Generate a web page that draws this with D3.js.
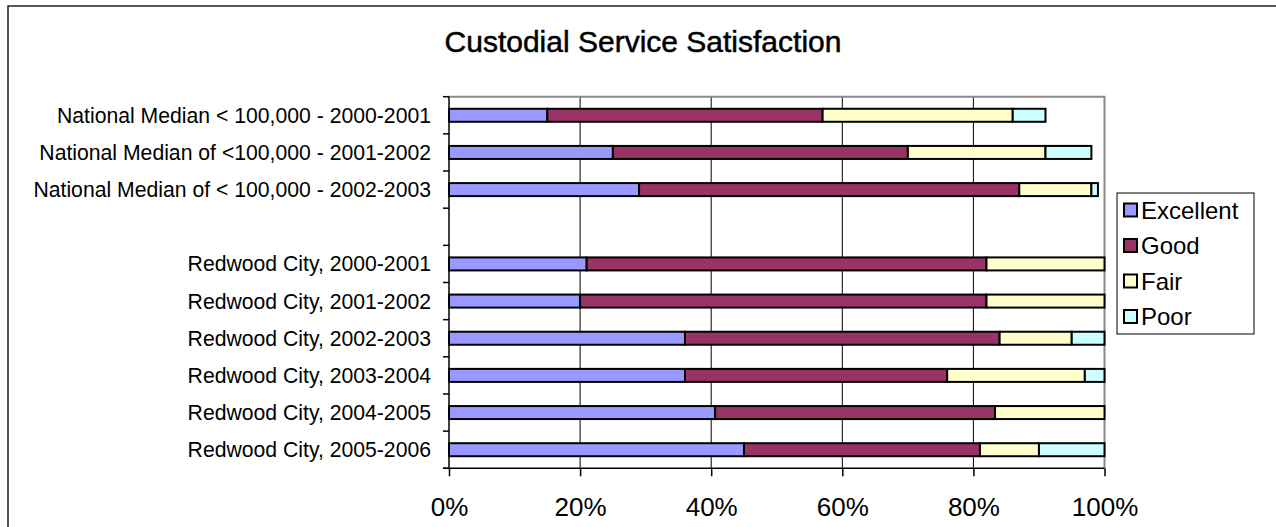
<!DOCTYPE html>
<html>
<head>
<meta charset="utf-8">
<script src="https://cdn.jsdelivr.net/npm/d3@7"></script>
<style>
  html, body { margin: 0; padding: 0; background: #fff; }
  svg { display: block; font-family: Arial, "Liberation Sans", sans-serif; }
</style>
</head>
<body>
<svg id="chart" width="1276" height="527"></svg>
<script>
// Survey rows (blank row separates the national medians from Redwood City)
const categories = [
  "National Median < 100,000 - 2000-2001",
  "National Median of <100,000 - 2001-2002",
  "National Median of < 100,000 - 2002-2003",
  "",
  "Redwood City, 2000-2001",
  "Redwood City, 2001-2002",
  "Redwood City, 2002-2003",
  "Redwood City, 2003-2004",
  "Redwood City, 2004-2005",
  "Redwood City, 2005-2006"
];

// Percent of respondents per rating
const excellent = [15, 25, 29, 0, 21, 20, 36, 36, 40.6, 45];
const good      = [42, 45, 58, 0, 61, 62, 48, 40, 42.7, 36];
const fair      = [29, 21, 11, 0, 18, 18, 11, 21, 16.7, 9];
const poor      = [5, 7, 1, 0, 0, 0, 5, 3, 0, 10];

const seriesNames = ["Excellent", "Good", "Fair", "Poor"];
const seriesColors = ["#9999FF", "#993366", "#FFFFCC", "#CCFFFF"];
const tickValues = [0, 20, 40, 60, 80, 100];

const title = "Custodial Service Satisfaction";

const svg = d3.select("#chart");

// Outer chart frame
svg.append("rect")
  .attr("x", 8).attr("y", 6)
  .attr("width", 1400).attr("height", 600)
  .attr("fill", "#fff")
  .attr("stroke", "#222").attr("stroke-width", 1.5);

// Title
svg.append("text")
  .attr("x", 643).attr("y", 52)
  .attr("text-anchor", "middle")
  .attr("font-size", 30)
  .attr("stroke", "#000").attr("stroke-width", 0.5)
  .attr("fill", "#000")
  .text(title);

const plot = { left: 449, right: 1104.5, top: 96.7, bottom: 468.3 };

const x = d3.scaleLinear().domain([0, 100]).range([plot.left, plot.right]);
const y = d3.scaleBand()
  .domain(categories)
  .range([plot.top, plot.bottom])
  .paddingInner(0.65)
  .paddingOuter(0.325);

// Row data for stacking
const rows = categories.map((c, i) => ({
  category: c,
  Excellent: excellent[i],
  Good: good[i],
  Fair: fair[i],
  Poor: poor[i]
}));
const stacked = d3.stack().keys(seriesNames)(rows);

// Vertical gridlines
svg.append("g")
  .selectAll("line")
  .data(tickValues.slice(1, -1))
  .join("line")
  .attr("x1", d => x(d)).attr("x2", d => x(d))
  .attr("y1", plot.top).attr("y2", plot.bottom)
  .attr("stroke", "#000").attr("stroke-width", 1);

// Plot border (top and right)
svg.append("path")
  .attr("d", `M${plot.left},${plot.top}H${plot.right}V${plot.bottom}`)
  .attr("fill", "none")
  .attr("stroke", "#8a8a8a").attr("stroke-width", 2);

// Stacked bars
svg.append("g")
  .selectAll("g")
  .data(stacked)
  .join("g")
  .attr("fill", (d, i) => seriesColors[i])
  .selectAll("rect")
  .data(d => d.filter(s => s[1] - s[0] > 0))
  .join("rect")
  .attr("x", d => x(d[0]))
  .attr("width", d => x(d[1]) - x(d[0]))
  .attr("y", d => y(d.data.category))
  .attr("height", y.bandwidth())
  .attr("stroke", "#000")
  .attr("stroke-width", 2);

// Category axis: ticks between rows
const boundaries = d3.range(categories.length + 1).map(i => plot.top + i * y.step());
svg.append("g")
  .selectAll("line")
  .data(boundaries)
  .join("line")
  .attr("x1", plot.left - 6).attr("x2", plot.left)
  .attr("y1", d => d).attr("y2", d => d)
  .attr("stroke", "#000").attr("stroke-width", 1.5);
svg.append("line")
  .attr("x1", plot.left).attr("x2", plot.left)
  .attr("y1", plot.top).attr("y2", plot.bottom)
  .attr("stroke", "#000").attr("stroke-width", 1.5);

// Category labels
svg.append("g")
  .selectAll("text")
  .data(categories)
  .join("text")
  .attr("x", 431)
  .attr("y", d => y(d) + y.bandwidth() / 2)
  .attr("dy", "0.35em")
  .attr("text-anchor", "end")
  .attr("font-size", 21.2)
  .attr("fill", "#000")
  .text(d => d);

// Value axis
const xAxis = d3.axisBottom(x)
  .tickValues(tickValues)
  .tickSize(8)
  .tickPadding(21)
  .tickFormat(d => d + "%");
const gx = svg.append("g")
  .attr("transform", `translate(0,${plot.bottom})`)
  .call(xAxis);
gx.select(".domain").remove();
gx.selectAll(".tick line").attr("stroke", "#000").attr("stroke-width", 1.5);
gx.selectAll(".tick text")
  .attr("font-size", 26)
  .attr("font-family", 'Arial, "Liberation Sans", sans-serif')
  .attr("fill", "#000");
svg.append("line")
  .attr("x1", plot.left - 6).attr("x2", plot.right)
  .attr("y1", plot.bottom).attr("y2", plot.bottom)
  .attr("stroke", "#000").attr("stroke-width", 1.5);

// Legend
const legend = svg.append("g");
legend.append("rect")
  .attr("x", 1117).attr("y", 193)
  .attr("width", 137).attr("height", 141)
  .attr("fill", "#fff")
  .attr("stroke", "#000").attr("stroke-width", 1);
const item = legend.selectAll("g.item")
  .data(seriesNames)
  .join("g")
  .attr("class", "item")
  .attr("transform", (d, i) => `translate(1124,${210 + i * 35.5})`);
item.append("rect")
  .attr("x", 0).attr("y", -6.5)
  .attr("width", 13).attr("height", 13)
  .attr("fill", (d, i) => seriesColors[i])
  .attr("stroke", "#000").attr("stroke-width", 2);
item.append("text")
  .attr("x", 17).attr("dy", "0.36em")
  .attr("font-size", 24)
  .attr("fill", "#000")
  .text(d => d);
</script>
</body>
</html>
